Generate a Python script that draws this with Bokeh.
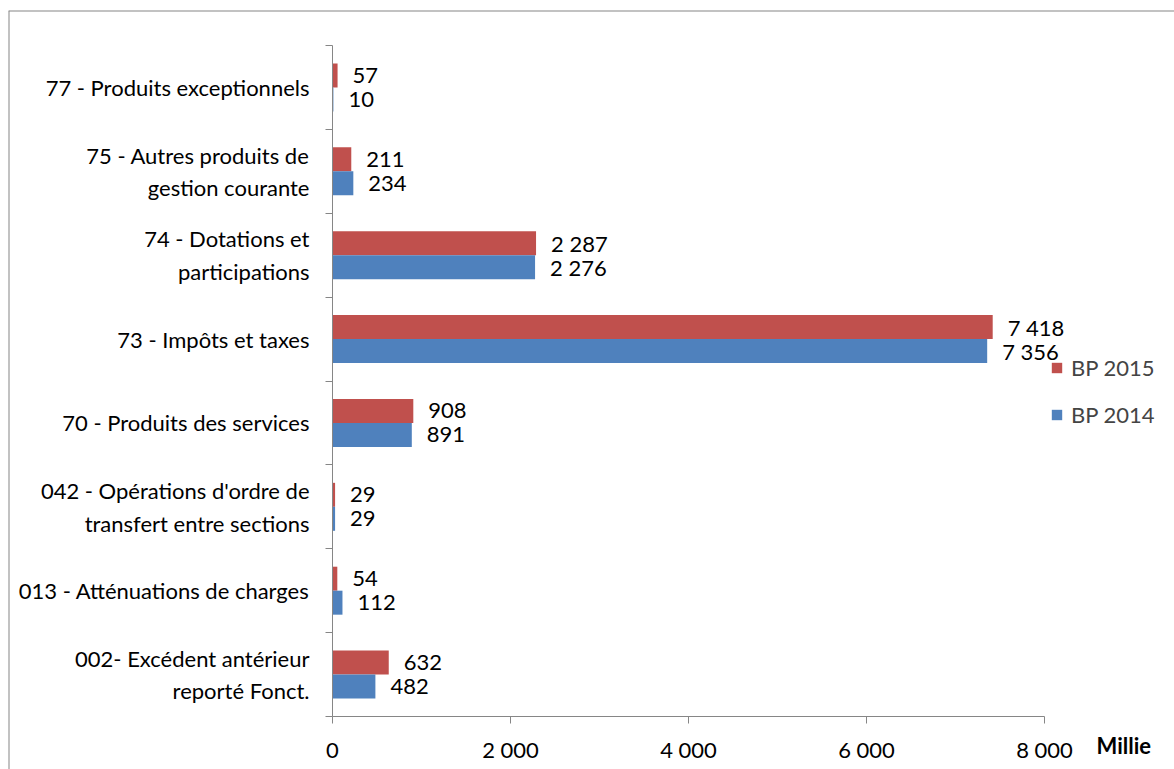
from bokeh.plotting import figure
from bokeh.models import (ColumnDataSource, Range1d, LinearAxis, FixedTicker, Legend,
                          LegendItem, Span, Label)
from bokeh.embed import file_html
from bokeh.resources import INLINE
from bokeh.core.properties import value

categories = [
    "002- Excédent antérieur\nreporté Fonct.",
    "013 - Atténuations de charges",
    "042 - Opérations d'ordre de\ntransfert entre sections",
    "70 - Produits des services",
    "73 - Impôts et taxes",
    "74 - Dotations et\nparticipations",
    "75 - Autres produits de\ngestion courante",
    "77 - Produits exceptionnels",
]
bp2015 = [632, 54, 29, 908, 7418, 2287, 211, 57]
bp2014 = [482, 112, 29, 891, 7356, 2276, 234, 10]
x_ticks = [0, 2000, 4000, 6000, 8000]
axis_unit = "Millie"

FONT = "Lato"
FS = "22px"
RED = "#C0504D"
BLUE = "#4F81BD"
GREY = "#868686"

W, H = 1174, 769
LEFT, TOP = 8, 10
# pixel geometry of the plot area
X0_PX, X8K_PX = 332, 1044
YTOP_PX, YBOT_PX = 45, 716
n = len(categories)
xs = (X8K_PX - X0_PX) / 8000.0
ys = (YBOT_PX - YTOP_PX) / float(n)
x_start = -(X0_PX - LEFT) / xs
x_end = 8000 + (W - X8K_PX) / xs
y_end = n + (YTOP_PX - TOP) / ys
y_start = -(H - YBOT_PX) / ys

p = figure(width=W, height=H, output_backend="svg", toolbar_location=None,
           x_range=Range1d(x_start, x_end), y_range=Range1d(y_start, y_end),
           x_axis_location=None, y_axis_location=None,
           min_border_left=LEFT, min_border_top=TOP, min_border_right=0, min_border_bottom=0)
p.grid.visible = False
p.outline_line_color = None
p.background_fill_color = "white"
p.border_fill_color = "white"

bar_h = 0.286
centers = [i + 0.5 for i in range(n)]
src = ColumnDataSource(dict(
    y15=[c + bar_h / 2 for c in centers],
    y14=[c - bar_h / 2 for c in centers],
    v15=bp2015, v14=bp2014,
    t15=[f"{v:,}".replace(",", " ") for v in bp2015],
    t14=[f"{v:,}".replace(",", " ") for v in bp2014],
))

r15 = p.hbar(y="y15", right="v15", left=0, height=bar_h, source=src,
             fill_color=RED, line_color=None)
r14 = p.hbar(y="y14", right="v14", left=0, height=bar_h, source=src,
             fill_color=BLUE, line_color=None)

for col_y, col_v, col_t in (("y15", "v15", "t15"), ("y14", "v14", "t14")):
    p.text(x=col_v, y=col_y, text=col_t, source=src, x_offset=15,
           text_font=value(FONT), text_font_size=FS, text_color="#000000",
           text_align="left", text_baseline="middle")

# Y axis (categories) at x = 0
yaxis = LinearAxis(fixed_location=0, bounds=(0, n))
yaxis.ticker = FixedTicker(ticks=centers, minor_ticks=list(range(n + 1)))
yaxis.major_label_overrides = {c: lab for c, lab in zip(centers, categories)}
yaxis.major_tick_out = 0
yaxis.major_tick_in = 0
yaxis.minor_tick_out = 7
yaxis.minor_tick_in = 0
yaxis.minor_tick_line_color = GREY
yaxis.axis_line_color = GREY
yaxis.major_label_standoff = 16
yaxis.major_label_text_font = FONT
yaxis.major_label_text_font_size = FS
yaxis.major_label_text_color = "#000000"
p.add_layout(yaxis, "left")

# X axis at y = 0
xaxis = LinearAxis(fixed_location=0, bounds=(0, 8000))
xaxis.ticker = FixedTicker(ticks=x_ticks, minor_ticks=[])
xaxis.major_label_overrides = {t: f"{t:,}".replace(",", " ") for t in x_ticks}
xaxis.major_tick_out = 7
xaxis.major_tick_in = 0
xaxis.major_tick_line_color = GREY
xaxis.axis_line_color = GREY
xaxis.major_label_standoff = 12
xaxis.major_label_text_font = FONT
xaxis.major_label_text_font_size = FS
xaxis.major_label_text_color = "#000000"
p.add_layout(xaxis, "below")

# axis unit title
p.add_layout(Label(x=8000 + (1096 - X8K_PX) / xs, y=-(745 - YBOT_PX) / ys, text=axis_unit,
                   text_font=FONT, text_font_size=FS, text_font_style="bold",
                   text_align="left", text_baseline="middle", text_color="#000000"))

# chart border (left and top visible)
p.add_layout(Span(location=x_start, dimension="height", line_color=GREY, line_width=2))
p.add_layout(Span(location=y_end, dimension="width", line_color=GREY, line_width=2))

legend = Legend(items=[LegendItem(label="BP 2015", renderers=[r15]),
                       LegendItem(label="BP 2014", renderers=[r14])],
                location=(1050 - LEFT, H - 358 - 70), padding=0, margin=0, spacing=20,
                glyph_width=13, glyph_height=13, label_height=24, label_standoff=8,
                label_text_font=FONT, label_text_font_size=FS,
                border_line_color=None, background_fill_alpha=0)
p.add_layout(legend)

open("out.html", "w").write(file_html(p, INLINE))
